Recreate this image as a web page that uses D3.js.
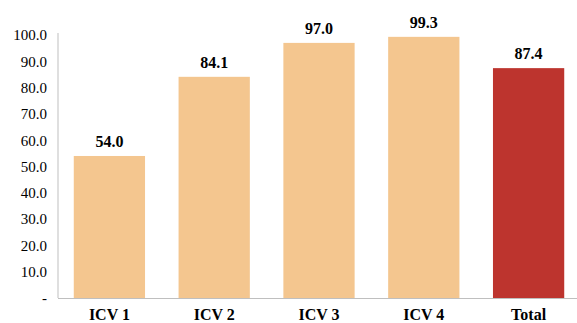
<!DOCTYPE html>
<html><head><meta charset="utf-8">
<script src="https://cdn.jsdelivr.net/npm/d3@7"></script>
<style>body{margin:0;background:#fff}svg{display:block}</style>
</head><body>
<svg id="c" width="577" height="323"></svg>
<script>
const categories = ["ICV 1", "ICV 2", "ICV 3", "ICV 4", "Total"];
const values = [54.0, 84.1, 97.0, 99.3, 87.4];
const barColors = ["#F4C68F", "#F4C68F", "#F4C68F", "#F4C68F", "#BD342E"];
const yTicks = [0, 10, 20, 30, 40, 50, 60, 70, 80, 90, 100];

const serif = "Liberation Serif";
const svg = d3.select("#c");
const x = d3.scaleBand().domain(categories).range([57, 581]).paddingInner(0.32).paddingOuter(0.16);
const y = d3.scaleLinear().domain([0, 100]).range([298, 35]);

// y axis
const ya = svg.append("g").attr("transform", "translate(58,0)")
  .call(d3.axisLeft(y).tickValues(yTicks).tickSize(0).tickPadding(11)
    .tickFormat(d => d === 0 ? "-" : d3.format(".1f")(d)));
ya.attr("font-family", serif);
ya.select(".domain").attr("stroke", "#BFBFBF").attr("d", `M0,${y(100)-2}V${y(0)}`);
ya.selectAll("text").attr("font-family", serif).attr("font-size", 15).attr("fill", "#000");

// bars
svg.append("g").selectAll("rect").data(values).join("rect")
  .attr("x", (d, i) => x(categories[i]))
  .attr("width", x.bandwidth())
  .attr("y", d => y(d))
  .attr("height", d => y(0) - y(d))
  .attr("fill", (d, i) => barColors[i]);

// x axis
const xa = svg.append("g").attr("transform", `translate(0,${y(0)})`)
  .call(d3.axisBottom(x).tickSize(0).tickPadding(11));
xa.attr("font-family", serif);
xa.select(".domain").attr("stroke", "#BFBFBF").attr("d", "M58,0.5H577");
xa.selectAll("text").attr("font-family", serif).attr("font-size", 16).attr("font-weight", "bold").attr("fill", "#000");

// value labels
svg.append("g").selectAll("text").data(values).join("text")
  .attr("x", (d, i) => x(categories[i]) + x.bandwidth() / 2)
  .attr("y", d => y(d) - 9)
  .attr("text-anchor", "middle")
  .attr("font-family", serif).attr("font-size", 16).attr("font-weight", "bold")
  .text(d => d3.format(".1f")(d));
</script>
</body></html>
